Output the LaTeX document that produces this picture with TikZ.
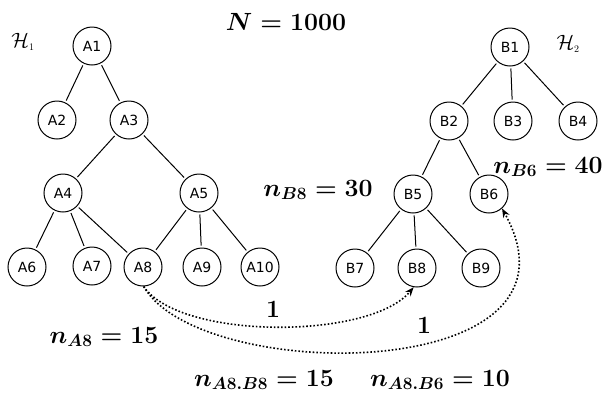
\documentclass[tikz,border=0pt]{standalone}
\usepackage{fontspec}
\usepackage{amsmath}
\newfontfamily\nodefont{DejaVu Sans}
\usetikzlibrary{arrows.meta}
\tikzset{
  tn/.style={circle,draw,line width=1pt,minimum size=38pt,inner sep=0pt,font=\nodefont\fontsize{14}{16}\selectfont},
  ed/.style={line width=1pt,shorten <=2pt,shorten >=2pt},
  lab/.style={inner sep=0pt,font=\fontsize{25}{29}\selectfont\boldmath},
  hl/.style={inner sep=0pt,font=\fontsize{20}{24}\selectfont},
  dotarrow/.style={line width=1.6pt,dotted,-{Stealth[length=9pt,width=7pt]}}
}
\begin{document}
\begin{tikzpicture}[x=1pt,y=-1pt]
\useasboundingbox (0,0) rectangle (604,392);
% left tree
\node[tn] (A1) at (92,46) {A1};
\node[tn] (A2) at (57,120) {A2};
\node[tn] (A3) at (129,120) {A3};
\node[tn] (A4) at (63,193) {A4};
\node[tn] (A5) at (199,193) {A5};
\node[tn] (A6) at (27,267) {A6};
\node[tn] (A7) at (92,266) {A7};
\node[tn] (A8) at (143,267) {A8};
\node[tn] (A9) at (202,267) {A9};
\node[tn] (A10) at (260,267) {A10};
\draw[ed] (A1) -- (A2);
\draw[ed] (A1) -- (A3);
\draw[ed] (A3) -- (A4);
\draw[ed] (A3) -- (A5);
\draw[ed] (A4) -- (A6);
\draw[ed] (A4) -- (A7);
\draw[ed] (A4) -- (A8);
\draw[ed] (A5) -- (A8);
\draw[ed] (A5) -- (A9);
\draw[ed] (A5) -- (A10);
% right tree
\node[tn] (B1) at (510,47) {B1};
\node[tn] (B2) at (449,121) {B2};
\node[tn] (B3) at (513,121) {B3};
\node[tn] (B4) at (578,121) {B4};
\node[tn] (B5) at (413,194) {B5};
\node[tn] (B6) at (489,194) {B6};
\node[tn] (B7) at (355,268) {B7};
\node[tn] (B8) at (417,268) {B8};
\node[tn] (B9) at (481,268) {B9};
\draw[ed] (B1) -- (B2);
\draw[ed] (B1) -- (B3);
\draw[ed] (B1) -- (B4);
\draw[ed] (B2) -- (B5);
\draw[ed] (B2) -- (B6);
\draw[ed] (B5) -- (B7);
\draw[ed] (B5) -- (B8);
\draw[ed] (B5) -- (B9);
% dotted arrows
\draw[dotarrow] (A8.-88) .. controls (180,340) and (370,340) .. (B8.-100);
\draw[dotarrow] (A8.-88) .. controls (200,385) and (600,385) .. (B6.-48);
% labels
\node[hl] (H1) at (23,42) {$\mathcal{H}_{\scriptscriptstyle 1}$};
\node[hl] (H2) at (568,44) {$\mathcal{H}_{\scriptscriptstyle 2}$};
\node[lab] (N) at (286,22) {$N=1000$};
\node[lab] (nB8) at (318,190) {$n_{B8}=30$};
\node[lab] (nB6) at (548,167) {$n_{B6}=40$};
\node[lab] (nA8) at (104,337) {$n_{A8}=15$};
\node[lab] (nA8B8) at (264,380) {$n_{A8.B8}=15$};
\node[lab] (nA8B6) at (440,380) {$n_{A8.B6}=10$};
\node[lab] (one1) at (273,309) {$1$};
\node[lab] (one2) at (424,325) {$1$};
\end{tikzpicture}
\end{document}
